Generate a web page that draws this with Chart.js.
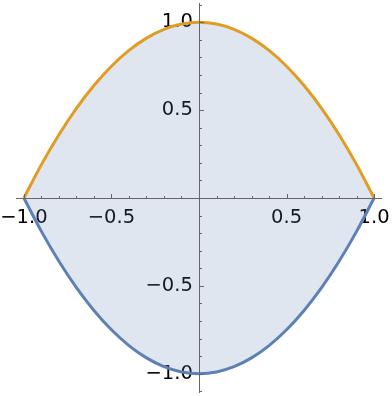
<!DOCTYPE html>
<html>
<head>
<meta charset="utf-8">
<script src="https://cdn.jsdelivr.net/npm/chart.js@4/dist/chart.umd.min.js"></script>
<style>
  html, body { margin: 0; padding: 0; background: #ffffff; }
  #c { display: block; }
</style>
</head>
<body>
<canvas id="c" width="392" height="396"></canvas>
<script>
// ---- data ----
const xValues     = [-1.0, -0.9, -0.8, -0.7, -0.6, -0.5, -0.4, -0.3, -0.2, -0.1, 0.0, 0.1, 0.2, 0.3, 0.4, 0.5, 0.6, 0.7, 0.8, 0.9, 1.0];
const upperValues = [0, 0.19, 0.36, 0.51, 0.64, 0.75, 0.84, 0.91, 0.96, 0.99, 1.0, 0.99, 0.96, 0.91, 0.84, 0.75, 0.64, 0.51, 0.36, 0.19, 0];
const lowerValues = [0, -0.19, -0.36, -0.51, -0.64, -0.75, -0.84, -0.91, -0.96, -0.99, -1.0, -0.99, -0.96, -0.91, -0.84, -0.75, -0.64, -0.51, -0.36, -0.19, 0];

const xTickLabels = [-1.0, -0.5, 0.5, 1.0];
const yTickLabels = [-1.0, -0.5, 0.5, 1.0];
const xMajorTicks = [-1.0, -0.5, 0, 0.5, 1.0];
const xMinorTicks = [-0.9, -0.8, -0.7, -0.6, -0.4, -0.3, -0.2, -0.1, 0.1, 0.2, 0.3, 0.4, 0.6, 0.7, 0.8, 0.9];
const yMajorTicks = [-1.0, -0.5, 0, 0.5, 1.0];
const yMinorTicks = [-1.1, -0.9, -0.8, -0.7, -0.6, -0.4, -0.3, -0.2, -0.1, 0.1, 0.2, 0.3, 0.4, 0.6, 0.7, 0.8, 0.9, 1.1];

const AXIS_COLOR = '#666666';
const fmt = v => (v < 0 ? '\u2212' : '') + Math.abs(v).toFixed(1);

const axesPlugin = {
  id: 'mmaAxes',
  afterDatasetsDraw(chart) {
    const ctx = chart.ctx;
    const xs = chart.scales.x, ys = chart.scales.y;
    const a = chart.chartArea;
    const x0 = Math.round(xs.getPixelForValue(0)) + 0.5;
    const y0 = Math.round(ys.getPixelForValue(0)) + 0.5;
    ctx.save();
    ctx.strokeStyle = AXIS_COLOR;
    ctx.lineWidth = 1;
    ctx.beginPath();
    ctx.moveTo(a.left, y0); ctx.lineTo(a.right, y0);
    ctx.moveTo(x0, a.top); ctx.lineTo(x0, a.bottom);
    const tick = (vals, len, horiz) => {
      vals.forEach(v => {
        if (horiz) {
          const px = Math.round(xs.getPixelForValue(v)) + 0.5;
          ctx.moveTo(px, y0); ctx.lineTo(px, y0 - len);
        } else {
          const py = Math.round(ys.getPixelForValue(v)) + 0.5;
          ctx.moveTo(x0, py); ctx.lineTo(x0 + len, py);
        }
      });
    };
    tick(xMajorTicks, 4.5, true);
    tick(xMinorTicks, 2.5, true);
    tick(yMajorTicks, 4.5, false);
    tick(yMinorTicks, 2.5, false);
    ctx.stroke();
    ctx.restore();
  }
};

const zeroFit = s => {
  if (s.isHorizontal()) { s.height = 0; } else { s.width = 0; }
  s.paddingLeft = 0; s.paddingRight = 0; s.paddingTop = 0; s.paddingBottom = 0;
};

new Chart(document.getElementById('c'), {
  type: 'line',
  data: {
    datasets: [
      {
        label: 'upper',
        data: xValues.map((x, i) => ({ x: x, y: upperValues[i] })),
        borderColor: 'rgb(225,156,36)',
        borderWidth: 3,
        pointRadius: 0,
        cubicInterpolationMode: 'monotone',
        fill: '+1',
        backgroundColor: 'rgba(94,129,181,0.2)'
      },
      {
        label: 'lower',
        data: xValues.map((x, i) => ({ x: x, y: lowerValues[i] })),
        borderColor: 'rgb(94,129,181)',
        borderWidth: 3,
        pointRadius: 0,
        cubicInterpolationMode: 'monotone',
        fill: false
      }
    ]
  },
  options: {
    responsive: false,
    animation: false,
    events: [],
    layout: { padding: { left: 16, right: 10, top: 3, bottom: 3 } },
    plugins: { legend: { display: false }, tooltip: { enabled: false } },
    scales: {
      x: {
        type: 'linear',
        min: -1.045, max: 1.045,
        position: { y: 0 },
        grid: { display: false, drawTicks: false },
        border: { display: false },
        afterBuildTicks: s => { s.ticks = xTickLabels.map(v => ({ value: v })); },
        afterFit: zeroFit,
        ticks: {
          callback: v => fmt(v),
          color: '#000000',
          padding: 8,
          maxRotation: 0,
          autoSkip: false,
          font: { family: 'DejaVu Sans', size: 19.5 }
        }
      },
      y: {
        type: 'linear',
        min: -1.11, max: 1.11,
        position: { x: 0 },
        grid: { display: false, drawTicks: false },
        border: { display: false },
        afterBuildTicks: s => { s.ticks = yTickLabels.map(v => ({ value: v })); },
        afterFit: zeroFit,
        ticks: {
          callback: v => fmt(v) + '\u2008',
          color: '#000000',
          padding: 8,
          autoSkip: false,
          font: { family: 'DejaVu Sans', size: 19.5 }
        }
      }
    }
  },
  plugins: [axesPlugin]
});
</script>
</body>
</html>
